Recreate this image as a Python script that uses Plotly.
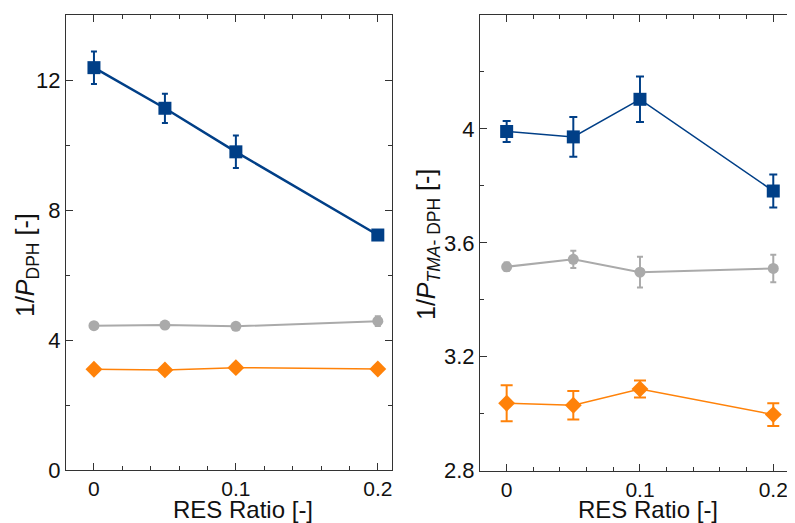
import plotly.graph_objects as go

# ---- data ----
res_ratio = [0, 0.05, 0.1, 0.2]

dph_blue = [12.38, 11.13, 9.79, 7.23]
dph_blue_err = [0.50, 0.45, 0.50, 0.15]
dph_gray = [4.44, 4.46, 4.42, 4.58]
dph_gray_err = [0.08, 0.08, 0.08, 0.15]
dph_orange = [3.10, 3.08, 3.15, 3.11]
dph_orange_err = [0.06, 0.09, 0.12, 0.05]

tma_blue = [3.991, 3.972, 4.104, 3.782]
tma_blue_err = [0.037, 0.070, 0.080, 0.058]
tma_gray = [3.516, 3.542, 3.497, 3.510]
tma_gray_err = [0.015, 0.030, 0.054, 0.048]
tma_orange = [3.037, 3.030, 3.087, 2.997]
tma_orange_err = [0.063, 0.050, 0.030, 0.040]

x_ticks = [0, 0.1, 0.2]
x_tick_labels = ["0", "0.1", "0.2"]
y1_ticks = [0, 4, 8, 12]
y2_ticks = [2.8, 3.2, 3.6, 4.0]
y2_tick_labels = ["2.8", "3.2", "3.6", "4"]

x_title = "RES Ratio [-]"
y1_title = "1/<i>P</i><sub>DPH</sub> [-]"
y2_title = "1/<i>P</i><sub><i>TMA</i>- DPH</sub> [-]"

BLUE = "#003f87"
GRAY = "#aaaaaa"
ORANGE = "#ff8209"
FONT = "Liberation Sans, Arial, sans-serif"

W, H = 795, 523
# page body has an 8px margin: figure coordinates = screen coordinates - 8
OFF = 8

def px_x(sx):
    return (sx - OFF) / W

def px_y(sy):
    return (H - (sy - OFF)) / H

fig = go.Figure()

def add(x, y, err, color, symbol, size, lw, cap, xa, ya):
    fig.add_trace(go.Scatter(
        x=x, y=y, mode="lines+markers",
        line=dict(color=color, width=lw),
        marker=dict(color=color, symbol=symbol, size=size, line=dict(width=0)),
        error_y=dict(type="data", array=err, visible=True, color=color,
                     thickness=2, width=cap),
        xaxis=xa, yaxis=ya, showlegend=False, cliponaxis=False))

add(res_ratio, dph_gray, dph_gray_err, GRAY, "circle", 11, 2, 3, "x", "y")
add(res_ratio, dph_orange, dph_orange_err, ORANGE, "diamond", 13, 1.5, 3, "x", "y")
add(res_ratio, dph_blue, dph_blue_err, BLUE, "square", 13, 2.5, 3, "x", "y")

add(res_ratio, tma_gray, tma_gray_err, GRAY, "circle", 11, 2, 3, "x2", "y2")
add(res_ratio, tma_orange, tma_orange_err, ORANGE, "diamond", 13, 1.5, 6, "x2", "y2")
add(res_ratio, tma_blue, tma_blue_err, BLUE, "square", 13, 1.5, 4, "x2", "y2")

axis_common = dict(
    showline=True, linecolor="#333333", linewidth=1, mirror="allticks",
    ticks="inside", ticklen=7, tickwidth=1, tickcolor="#333333",
    showgrid=False, zeroline=False, automargin=False,
)
ytick_font = dict(family=FONT, size=22, color="#111111")
xtick_font = dict(family=FONT, size=21, color="#111111")
minor_common = dict(ticks="inside", ticklen=4, tickcolor="#333333")

title_font = dict(family=FONT, size=25, color="#111111")
xtitle_font = dict(family=FONT, size=24, color="#111111")

fig.update_layout(
    width=W, height=H,
    margin=dict(l=0, r=0, t=0, b=0),
    paper_bgcolor="white", plot_bgcolor="white",
    xaxis=dict(domain=[px_x(66), px_x(392)], range=[-0.0197, 0.21],
               tickvals=x_ticks, ticktext=x_tick_labels, tickfont=xtick_font,
               minor=dict(dtick=0.02, tick0=0, **minor_common),
               anchor="y", **axis_common),
    yaxis=dict(domain=[px_y(470), px_y(15)], range=[0, 14],
               tickvals=y1_ticks, tickfont=ytick_font,
               minor=dict(dtick=2, tick0=0, **minor_common),
               anchor="x", **axis_common),
    xaxis2=dict(domain=[px_x(480), min(1.0, px_x(797))], range=[-0.02, 0.2178],
                tickvals=x_ticks, ticktext=x_tick_labels, tickfont=xtick_font,
                minor=dict(dtick=0.02, tick0=0, **minor_common),
                anchor="y2", **axis_common),
    yaxis2=dict(domain=[px_y(470.7), px_y(15)], range=[2.8, 4.4],
                tickvals=y2_ticks, ticktext=y2_tick_labels, tickfont=ytick_font,
                minor=dict(dtick=0.2, tick0=2.8, **minor_common),
                anchor="x2", **axis_common),
    annotations=[
        dict(text=x_title, x=px_x(243), y=px_y(509), xref="paper", yref="paper",
             showarrow=False, xanchor="center", yanchor="middle", font=xtitle_font, borderpad=0),
        dict(text=x_title, x=px_x(648), y=px_y(509), xref="paper", yref="paper",
             showarrow=False, xanchor="center", yanchor="middle", font=xtitle_font, borderpad=0),
        dict(text=y1_title, x=px_x(27), y=px_y(265), xref="paper", yref="paper",
             showarrow=False, xanchor="center", yanchor="middle", textangle=-90, font=title_font),
        dict(text=y2_title, x=px_x(428), y=px_y(245), xref="paper", yref="paper",
             showarrow=False, xanchor="center", yanchor="middle", textangle=-90, font=title_font),
    ],
)

fig.write_html("out.html")
